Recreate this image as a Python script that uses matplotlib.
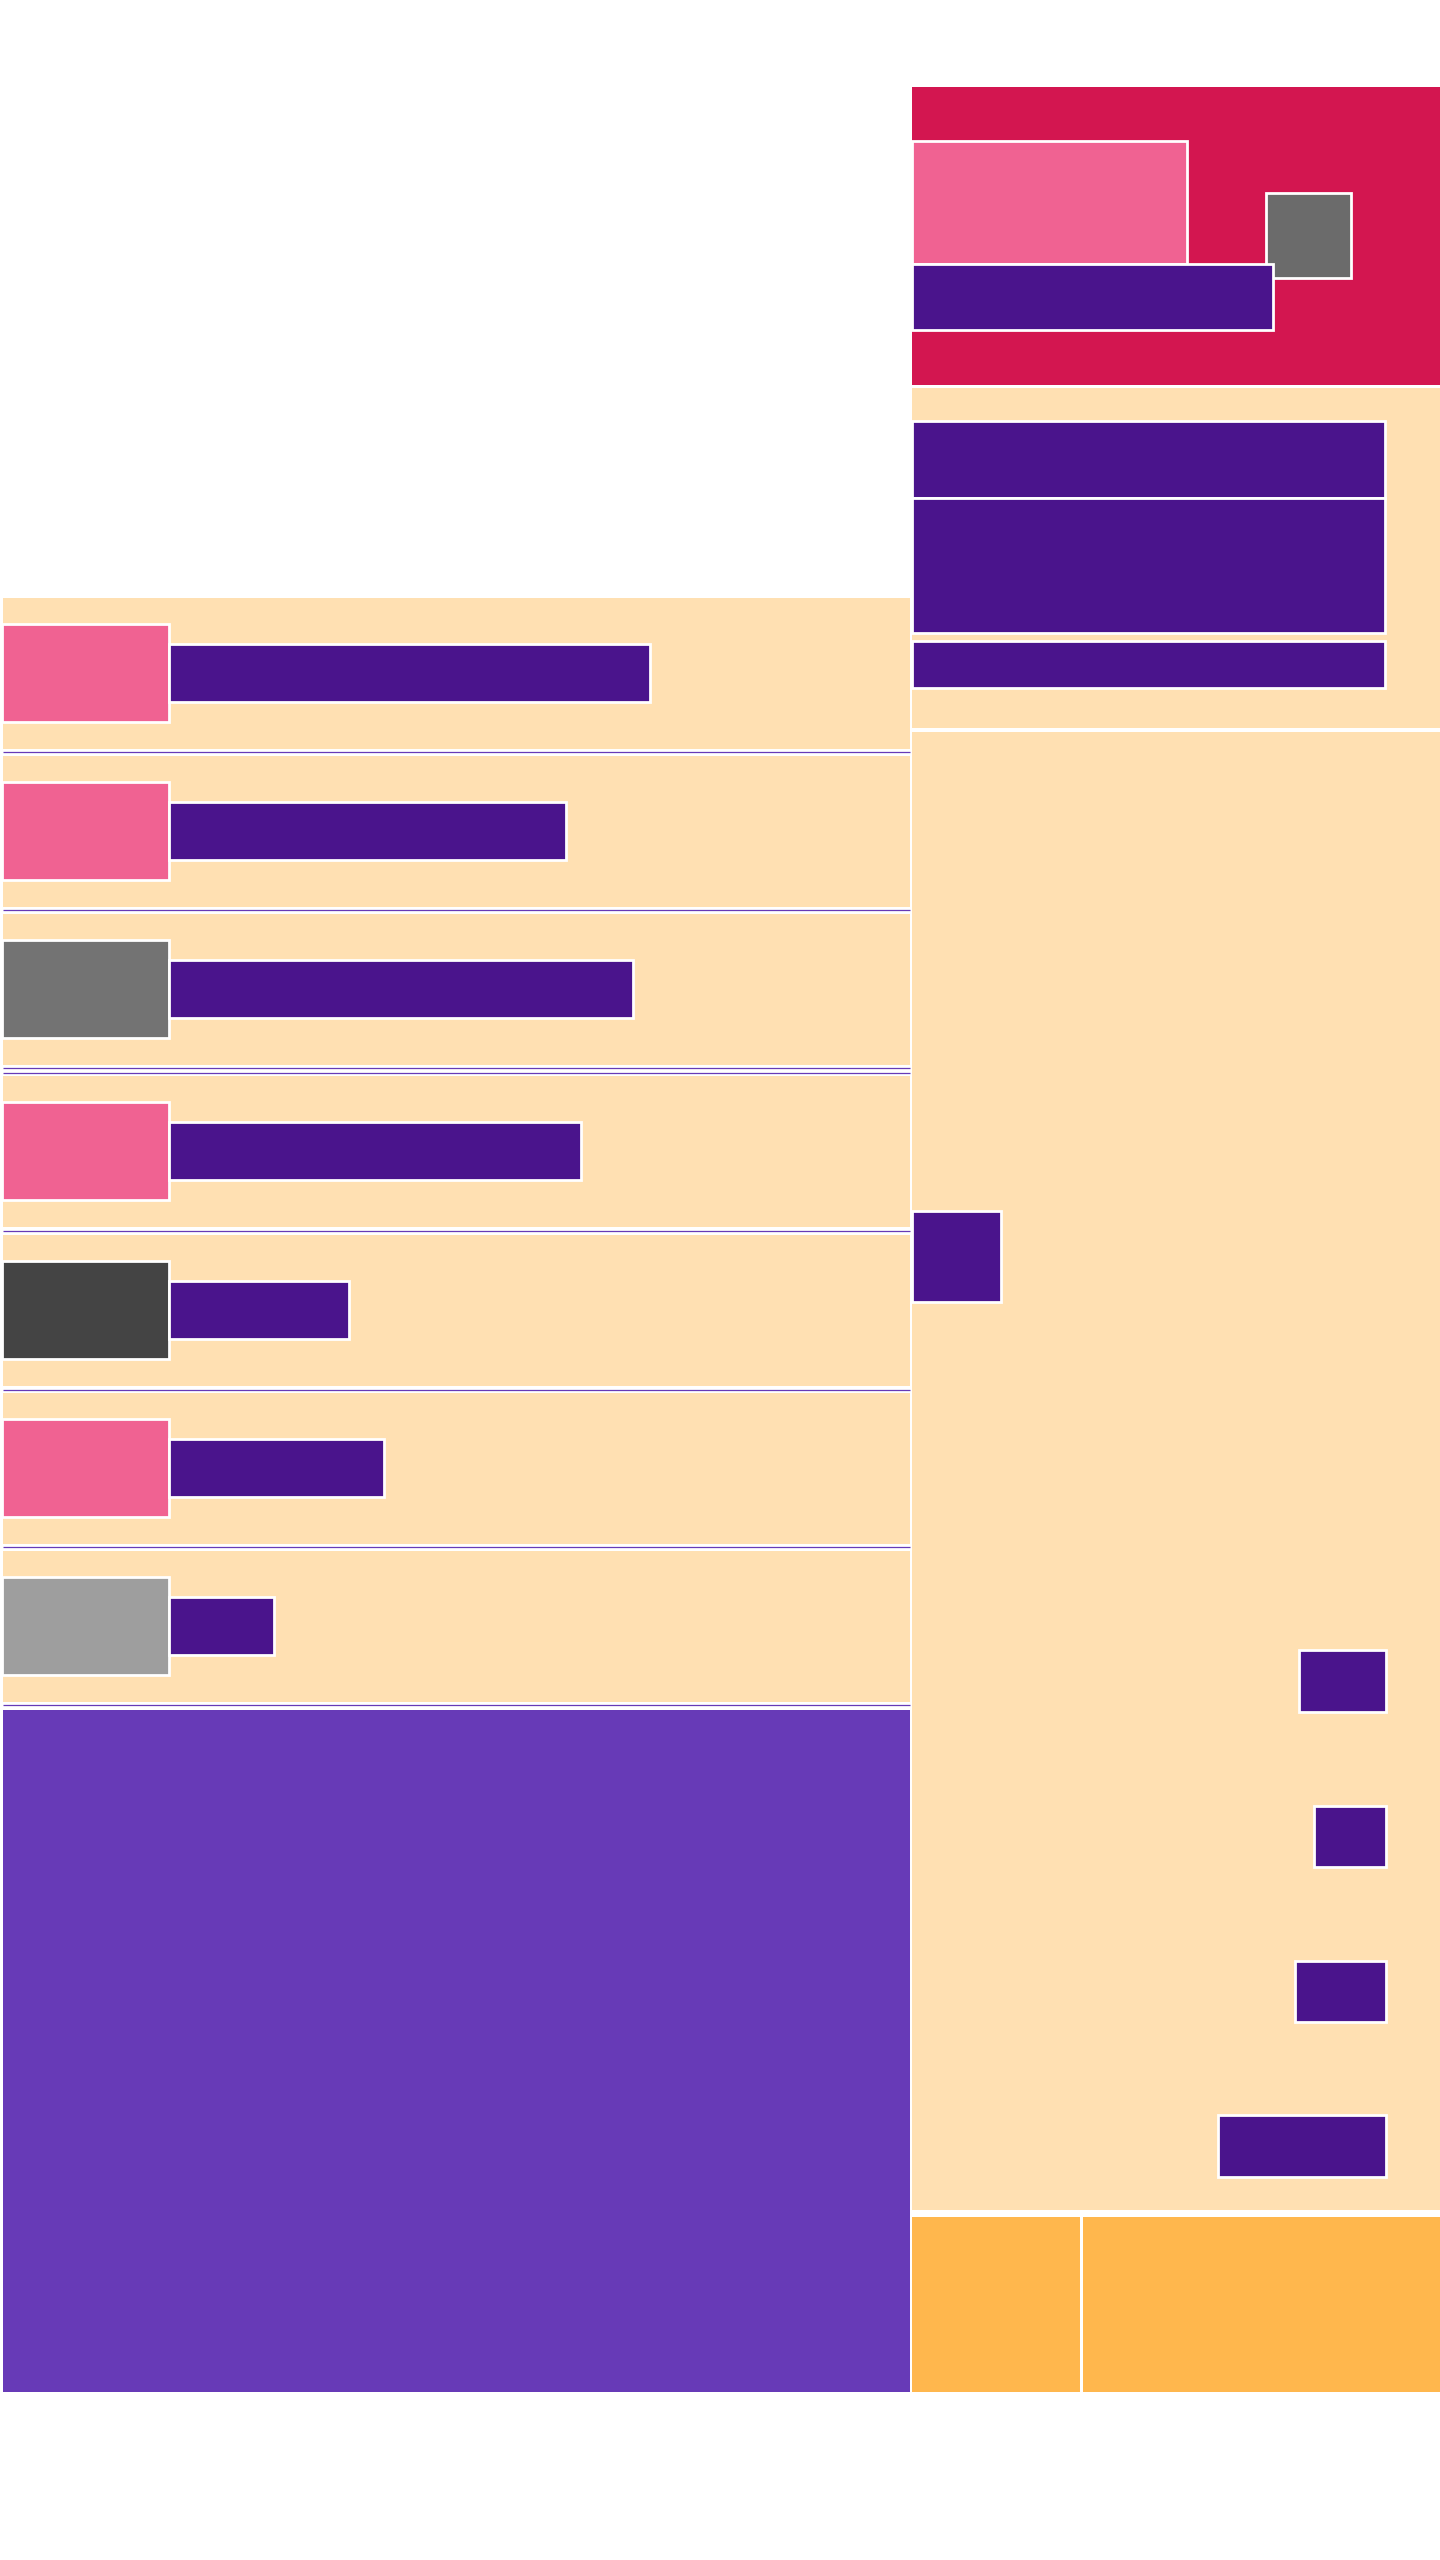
import matplotlib
matplotlib.use("Agg")
import matplotlib.pyplot as plt
from matplotlib.patches import Rectangle

# ---------------- data ----------------
# left list: one row per item, an icon swatch and a bar whose length is the value
list_items = ["Item 1", "Item 2", "Item 3", "Item 4", "Item 5", "Item 6", "Item 7"]
list_values = [481, 397, 464, 412, 180, 215, 105]
list_icon_kind = ["pink", "pink", "gray", "pink", "dark", "pink", "light"]

# right column, hero block bars
hero_values = [275, 361]          # pink block, purple bar
# right column, stacked bars in the upper beige card
card_values = [473, 473, 473]
# right column, right-aligned bars in the lower card
side_items = ["A", "B", "C", "D"]
side_values = [87, 72, 91, 168]
# footer split
footer_values = [168, 357]

# ---------------- style ----------------
BEIGE = "#ffe0b2"
PURPLE_D = "#4a148c"
PURPLE = "#673ab7"
PINK = "#f06292"
RED = "#d31650"
ORANGE = "#ffb74d"
icon_colors = {"pink": PINK, "gray": "#737373", "dark": "#444444", "light": "#9e9e9e"}
EDGE_LW = 2.0

fig = plt.figure(figsize=(14.4, 25.6), dpi=100)
ax = fig.add_axes([0, 0, 1, 1])
ax.set_xlim(0, 1440)
ax.set_ylim(2560, 0)
ax.axis("off")


def rect(x0, y0, x1, y1, fc, ec="none", lw=0, z=1):
    ax.add_patch(Rectangle((x0, y0), x1 - x0, y1 - y0, facecolor=fc,
                           edgecolor=ec, linewidth=lw, zorder=z))


# ---------- left column ----------
panel_tops = [598, 756, 914, 1076, 1235, 1393, 1551]
panel_h = 151
line_ys = [752, 910, 1068, 1073, 1231, 1390, 1547, 1705]
for top in panel_tops:
    rect(3, top, 910, top + panel_h, BEIGE, z=1)
for ly in line_ys:
    ax.plot([3, 910], [ly, ly], color=PURPLE, lw=0.9, zorder=2, solid_capstyle="butt")

for top, val, kind in zip(panel_tops, list_values, list_icon_kind):
    rect(1.5, top + 26.4, 169, top + 124.4, icon_colors[kind], ec="white", lw=EDGE_LW, z=3)
    ax.barh(top + 46.4 + 29, val, height=58, left=169, color=PURPLE_D,
            edgecolor="white", linewidth=EDGE_LW, zorder=4)

# big purple block
rect(3, 1710, 910, 2392, PURPLE, z=1)

# ---------- right column ----------
# hero block
rect(912, 87, 1440, 385, RED, z=1)
rect(912, 141.4, 912 + hero_values[0], 264.4, PINK, ec="white", lw=EDGE_LW, z=3)
rect(1266.3, 193.4, 1350.5, 277.5, "#6b6b6b", ec="white", lw=EDGE_LW, z=3)
ax.barh((264.4 + 330) / 2, hero_values[1], height=330 - 264.4, left=912,
        color=PURPLE_D, edgecolor="white", linewidth=EDGE_LW, zorder=4)

# upper beige card
rect(912, 388, 1440, 728, BEIGE, z=1)
card_spans = [(421.4, 497.5), (497.5, 633.4), (640.5, 687.5)]
for (y0, y1), val in zip(card_spans, card_values):
    ax.barh((y0 + y1) / 2, val, height=y1 - y0, left=912, color=PURPLE_D,
            edgecolor="white", linewidth=EDGE_LW, zorder=3)

# lower beige card
rect(912, 732, 1440, 2210, BEIGE, z=1)
rect(912, 1210.5, 1000.5, 1302.4, PURPLE_D, ec="white", lw=EDGE_LW, z=3)
side_centers = [1681.2, 1836.5, 1991.7, 2146.0]
for c, val in zip(side_centers, side_values):
    ax.barh(c, val, height=61.5, left=1385.5 - val, color=PURPLE_D,
            edgecolor="white", linewidth=EDGE_LW, zorder=3)

# footer
rect(912, 2217, 912 + footer_values[0], 2392, ORANGE, z=1)
rect(1083, 2217, 1083 + footer_values[1], 2392, ORANGE, z=1)

fig.savefig("out.png", dpi=100, facecolor="white")
